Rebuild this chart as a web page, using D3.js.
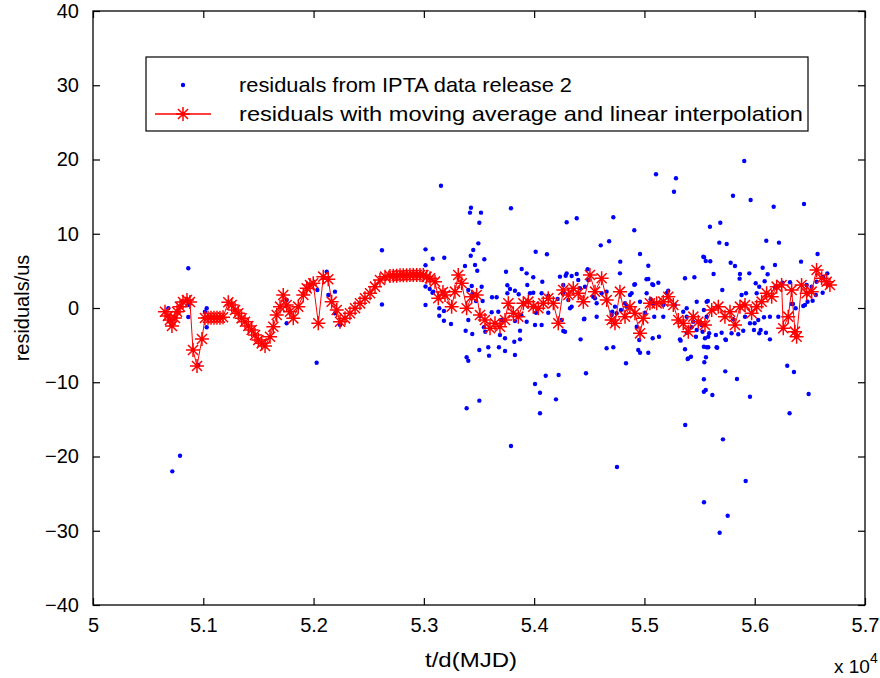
<!DOCTYPE html>
<html>
<head>
<meta charset="utf-8">
<script src="https://cdn.jsdelivr.net/npm/d3@7/dist/d3.min.js"></script>
<style>
  body { margin: 0; background: #fff; }
  text { font-family: "Liberation Sans", Arial, Helvetica, sans-serif; fill: #000; }
</style>
</head>
<body>
<div id="chart"></div>
<script>
const width = 880;
const height = 678;
const margin = { left: 93, top: 11, right: 15, bottom: 73 };

// x ticks (MJD) and y ticks (residuals, us)
const xTicks = [50000, 51000, 52000, 53000, 54000, 55000, 56000, 57000];
const xTickLabels = ["5", "5.1", "5.2", "5.3", "5.4", "5.5", "5.6", "5.7"];
const yTicks = [-40, -30, -20, -10, 0, 10, 20, 30, 40];
const yTickLabels = ["\u221240", "\u221230", "\u221220", "\u221210", "0", "10", "20", "30", "40"];

const legendLabels = [
  "residuals from IPTA data release 2",
  "residuals with moving average and linear interpolation"
];
const legendWidths = [333, 564];

// blue dots: [MJD, residual us]
const rawResiduals = [
  [50683,-0.04],[50707,-1.62],[50864,5.35],[50864,0.40],[50864,-1.21],[50955,-7.68],[50719,-22.0],[50789,-19.9],
  [51015,-0.50],[51031,-0.04],[51031,-2.60],[51756,1.08],[51756,-2.06],[52028,-7.37],[52119,4.89],[52134,1.75],
  [52194,2.2],[52194,-0.71],[52240,-2.29],[52034,2.42],[52620,7.77],[52620,0.47],[53015,7.9],[53015,5.75],
  [53015,2.9],[53015,0.4],[53080,6.64],[53053,2.56],[53078,2.06],[53155,16.47],[53140,-0.04],[53140,-1.04],
  [53182,-0.40],[53185,6.77],[53182,-1.71],[53246,-2.15],[53086,2.2],
  [53427,13.51],[53418,12.84],[53518,12.84],[53503,11.49],[53790,13.43],[53494,8.71],[53448,7.81],[53425,7.04],
  [53548,6.56],[54014,7.58],[54116,7.23],[53373,5.66],[53464,5.79],[53484,5.02],[53745,4.89],[53887,5.25],
  [53932,4.67],[53992,4.14],[54074,3.54],[54295,4.67],[54286,4.35],[53434,2.96],[53524,2.87],[53403,2.42],
  [53439,1.85],[53473,0.94],[53533,0.94],[53618,1.44],[53660,1.44],[53757,3.06],[53781,2.56],[53826,2.33],
  [53860,1.85],[53757,1.98],[53938,3.10],[53962,1.98],[53992,2.06],[54068,1.98],[54128,1.66],[54213,1.21],
  [54259,1.98],[54310,1.08],[53403,-1.62],[53509,-1.08],[53545,-2.60],[53557,-3.19],[53615,-0.58],[53675,-0.50],
  [53706,-1.62],[53690,-3.64],[53736,-4.08],[53826,-1.75],[53883,-0.98],[53932,-1.85],[54008,-2.29],[54068,-2.29],
  [53872,-3.06],[54017,-0.63],[54128,-0.63],[54264,-3.10],[53379,-3.06],[53439,-3.50],[53503,-5.66],[53584,-5.29],
  [53591,-6.42],[53681,-5.29],[53736,-5.79],[53826,-6.33],[53388,-6.64],[53403,-7.10],[53872,-4.22],[53820,-4.54],
  [53388,-13.51],[53503,-12.48],[54008,-10.24],[54105,-9.12],[54222,-9.02],[54053,-11.41],[54198,-12.30],[54053,-14.18],
  [53790,-18.59],[54470,-8.79],[54751,-21.41],[54604,8.44],[54680,8.98],[54781,6.24],[54960,7.27],[54718,12.22],
  [54908,10.47],[54295,11.54],[54386,12.08],
  [54234,4.22],[54386,4.58],[54340,4.31],[54485,5.21],[54491,3.77],[54264,3.10],[54264,2.06],[54416,2.65],
  [54340,0.18],[54325,-0.04],[54552,1.31],[54733,0.18],[54884,1.98],[54869,1.75],[54824,0.63],[55020,1.98],
  [54960,0.85],[55057,1.17],[55080,0.63],[55005,-0.63],[55089,-1.17],[55171,-1.17],[55216,2.33],[55171,0.40],
  [55202,1.98],[55277,0.40],[55352,-0.50],[55383,-0.04],[55383,-1.17],[55474,0.85],[55564,0.85],[55443,-1.85],
  [55428,-2.60],[55383,-3.33],[55467,-3.87],[55519,-2.29],[55474,-2.96],[55549,-4.08],[55579,-3.87],[55564,-5.29],
  [55397,-6.78],[55368,-5.56],[55322,-4.22],[54250,-1.62],[54280,-3.19],[54452,-1.52],[54567,-1.17],[54421,-4.22],
  [54657,-5.43],[54718,-5.29],[54708,-0.50],[54944,-5.66],[54960,-6.02],[55035,-6.02],[55075,-4.08],[55132,-3.87],
  [55035,5.70],[55541,6.83],[55556,6.33],[55453,4.14],[55368,4.00],[54778,4.67],[54914,3.19],[55035,3.91],
  [55080,3.10],[55126,3.41],[54833,-7.45],[54930,-2.52],[54787,-0.27],[54839,0.18],[54703,-0.94],[54748,-0.71],
  [54612,1.98],[54657,2.20],[54536,1.52],[54461,2.87],[54400,3.77],[54567,0.63],[54455,-1.44],
  [55905,19.80],[55105,18.01],[55286,17.47],[55268,15.66],[55803,15.12],[55963,14.55],[56447,14.01],[56172,13.64],
  [55594,10.95],[55688,11.49],[55679,8.80],[55746,8.62],[56105,9.06],[56220,8.80],[55534,6.91],[55597,6.29],
  [55782,6.10],[55821,5.66],[56570,7.27],[56420,6.24],[56184,5.79],[56072,5.43],[55627,4.58],[55866,4.58],
  [55951,4.67],[56117,4.54],[55863,3.95],[55881,1.75],[55019,3.87],[54908,3.14],[55071,3.19],[55207,1.98],
  [56018,1.98],[56090,3.60],[56253,3.41],[56471,3.10],[56622,4.22],[56561,3.54],[56616,2.06],[56525,0.98],
  [56456,0.40],[56214,-1.17],[56138,-1.17],[56084,-1.25],[56347,0.54],[56371,-0.04],[56658,4.67],[56516,2.87],
  [56320,3.46],[56184,2.79],[56041,2.87],[55921,1.98],[55706,2.42],[55575,0.94],[55539,-0.27],[55564,-1.17],
  [55503,-1.85],[55527,-3.19],[55587,-3.41],[55648,-3.64],[55700,-3.33],[55739,-4.31],[55790,-3.41],[55851,-3.54],
  [55896,-3.06],[55957,-2.06],[55993,-2.96],[56054,-2.96],[56102,-3.33],[56138,-4.22],[56032,-1.62],[55806,-1.52],
  [55912,-1.17],[55539,-5.21],[55579,-5.29],[55654,-5.29],[55558,-6.64],[54953,-4.31],[55392,-6.87],[55422,-6.56],
  [55328,-4.40],[55660,-5.35],[55543,-7.31],[55734,-4.22],[56041,-3.41],[55999,-2.06],[55539,-9.60],[55539,-11.27],
  [55556,-11.05],[55616,-11.72],[55733,-8.53],[55839,-9.56],[55957,-11.95],[56295,-7.77],[56356,-8.62],[56489,-11.58],
  [56316,-14.18],[55370,-15.76],[55712,-17.69],[55918,-23.30],[55540,-26.17],[55755,-27.97],[55682,-30.27],[56009,3.33],
  [56661,3.19],[56554,1.75],[56479,0.85],[56440,0.27],[56334,0.54]
];

// red stars: moving average + linear interpolation
const avgMjd = [
  50653,50680,50698,50716,50743,50762,50789,50816,50852,50879,50907,50943,50988,51015,51043,51070,51097,51124,51151,51179,
  51227,51258,51288,51317,51348,51378,51408,51439,51469,51499,51530,51560,51605,51635,51666,51696,51725,51756,51786,51816,
  51861,51907,51938,51968,51997,52043,52088,52133,52164,52210,52240,52285,52330,52376,52421,52466,52512,52557,52602,52648,
  52693,52723,52754,52784,52814,52844,52874,52904,52935,52965,52995,53025,53056,53101,53131,53173,53192,53252,53282,53312,
  53343,53388,53434,53479,53509,53554,53600,53645,53690,53736,53766,53811,53856,53902,53947,53992,54038,54083,54128,54174,
  54219,54264,54310,54355,54400,54446,54506,54552,54612,54658,54703,54733,54778,54824,54869,54914,54960,54990,55050,55111,
  55171,55216,55262,55307,55352,55398,55443,55488,55549,55610,55670,55730,55776,55821,55866,55912,55972,56018,56063,56108,
  56154,56199,56244,56259,56304,56335,56365,56380,56425,56471,56516,56561,56607,56652,56682
];
const avgRes = [
  -0.50,-1.08,-1.62,-2.42,-1.35,-0.50,0.18,0.81,1.08,0.81,-5.66,-7.81,-4.18,-1.35,-1.31,-1.31,-1.31,-1.31,-1.31,-1.25,
  0.77,0.40,-0.27,-0.71,-1.39,-1.85,-2.42,-2.96,-3.64,-4.31,-4.76,-5.12,-3.87,-2.52,-0.94,0.18,1.75,0.40,-0.50,-1.39,
  0.18,1.75,2.65,3.10,3.33,-2.06,4.22,3.87,0.85,-0.27,-1.85,-1.39,-0.71,-0.04,0.63,1.31,1.98,2.87,3.77,4.22,
  4.31,4.35,4.35,4.40,4.40,4.40,4.45,4.45,4.45,4.45,4.45,4.20,4.00,3.55,1.31,2.15,1.75,0.18,2.20,4.45,
  3.33,-0.04,1.52,1.75,-0.94,-1.62,-2.73,-2.06,-2.52,-1.62,0.63,-0.71,-1.17,0.63,0.85,0.18,-0.04,0.63,1.31,0.63,
  -2.06,2.42,1.75,2.65,1.98,0.85,4.45,2.20,4.00,1.08,-1.62,-2.06,2.20,-1.17,0.18,-0.71,-3.41,-1.39,0.63,0.63,
  0.85,1.52,0.40,-1.62,-2.06,-3.19,-1.17,-1.85,-2.29,-0.27,0.18,-1.17,-0.50,-2.29,0.18,0.40,-0.71,0.18,0.85,1.98,
  1.52,2.87,3.10,-2.73,-1.17,2.42,-3.19,-3.87,3.10,1.98,2.20,5.12,4.00,3.54,3.10
];

const svg = d3.select("#chart").append("svg")
  .attr("width", width)
  .attr("height", height);

const plotW = width - margin.left - margin.right;
const plotH = height - margin.top - margin.bottom;

const x = d3.scaleLinear().domain([50000, 57000]).range([margin.left, margin.left + plotW]);
const y = d3.scaleLinear().domain([-40, 40]).range([margin.top + plotH, margin.top]);

function starPath(r) {
  const d = r * 0.72;
  return `M${-r},0L${r},0M0,${-r}L0,${r}M${-d},${-d}L${d},${d}M${-d},${d}L${d},${-d}`;
}

// axes with inward ticks on all four sides
const tickLen = 7;
const axisG = svg.append("g");

axisG.append("g")
  .attr("transform", `translate(0,${margin.top + plotH})`)
  .call(d3.axisBottom(x).tickValues(xTicks).tickSize(-tickLen).tickFormat((d, i) => xTickLabels[i]).tickPadding(13));
axisG.append("g")
  .attr("transform", `translate(0,${margin.top})`)
  .call(d3.axisTop(x).tickValues(xTicks).tickSize(-tickLen).tickFormat(""));
axisG.append("g")
  .attr("transform", `translate(${margin.left},0)`)
  .call(d3.axisLeft(y).tickValues(yTicks).tickSize(-tickLen).tickFormat((d, i) => yTickLabels[i]).tickPadding(14));
axisG.append("g")
  .attr("transform", `translate(${margin.left + plotW},0)`)
  .call(d3.axisRight(y).tickValues(yTicks).tickSize(-tickLen).tickFormat(""));

axisG.selectAll(".domain").remove();
axisG.selectAll(".tick line").attr("stroke", "#000").attr("stroke-width", 1.2);
axisG.selectAll(".tick text").style("font-size", "20px")
  .style("font-family", "'Liberation Sans', Arial, sans-serif");

axisG.append("rect")
  .attr("x", margin.left)
  .attr("y", margin.top)
  .attr("width", plotW)
  .attr("height", plotH)
  .attr("fill", "none")
  .attr("stroke", "#000")
  .attr("stroke-width", 1.3);

// data
const plot = svg.append("g");

plot.selectAll("circle.raw")
  .data(rawResiduals)
  .enter()
  .append("circle")
  .attr("class", "raw")
  .attr("cx", d => x(d[0]))
  .attr("cy", d => y(d[1]))
  .attr("r", 2.2)
  .attr("fill", "#0000ff");

const avgData = avgMjd.map((t, i) => [t, avgRes[i]]);

plot.append("path")
  .datum(avgData)
  .attr("fill", "none")
  .attr("stroke", "#ff0000")
  .attr("stroke-width", 1)
  .attr("d", d3.line().x(d => x(d[0])).y(d => y(d[1])));

plot.selectAll("path.star")
  .data(avgData)
  .enter()
  .append("path")
  .attr("class", "star")
  .attr("transform", d => `translate(${x(d[0])},${y(d[1])})`)
  .attr("d", starPath(7))
  .attr("fill", "none")
  .attr("stroke", "#ff0000")
  .attr("stroke-width", 1.5);

// axis titles
svg.append("text")
  .attr("x", 471)
  .attr("y", 667)
  .attr("text-anchor", "middle")
  .attr("textLength", 92)
  .attr("lengthAdjust", "spacingAndGlyphs")
  .style("font-size", "21px")
  .text("t/d(MJD)");

const expo = svg.append("text")
  .attr("x", 834)
  .attr("y", 673)
  .style("font-size", "19px");
expo.append("tspan").text("x 10");
expo.append("tspan").attr("dy", -10).style("font-size", "14px").text("4");

svg.append("text")
  .attr("transform", "translate(29,308) rotate(-90)")
  .attr("text-anchor", "middle")
  .style("font-size", "20px")
  .text("residuals/us");

// legend
const legend = svg.append("g");
legend.append("rect")
  .attr("x", 146)
  .attr("y", 57)
  .attr("width", 662)
  .attr("height", 74)
  .attr("fill", "#fff")
  .attr("stroke", "#000")
  .attr("stroke-width", 1.2);

legend.append("circle")
  .attr("cx", 183)
  .attr("cy", 85)
  .attr("r", 2.2)
  .attr("fill", "#0000ff");

legend.append("line")
  .attr("x1", 155).attr("x2", 211)
  .attr("y1", 114).attr("y2", 114)
  .attr("stroke", "#ff0000")
  .attr("stroke-width", 1.5);

legend.append("path")
  .attr("transform", "translate(183,114)")
  .attr("d", starPath(7))
  .attr("fill", "none")
  .attr("stroke", "#ff0000")
  .attr("stroke-width", 1.5);

legend.selectAll("text")
  .data(legendLabels)
  .enter()
  .append("text")
  .attr("x", 239)
  .attr("y", (d, i) => 92 + i * 29)
  .attr("textLength", (d, i) => legendWidths[i])
  .attr("lengthAdjust", "spacingAndGlyphs")
  .style("font-size", "21px")
  .text(d => d);
</script>
</body>
</html>
